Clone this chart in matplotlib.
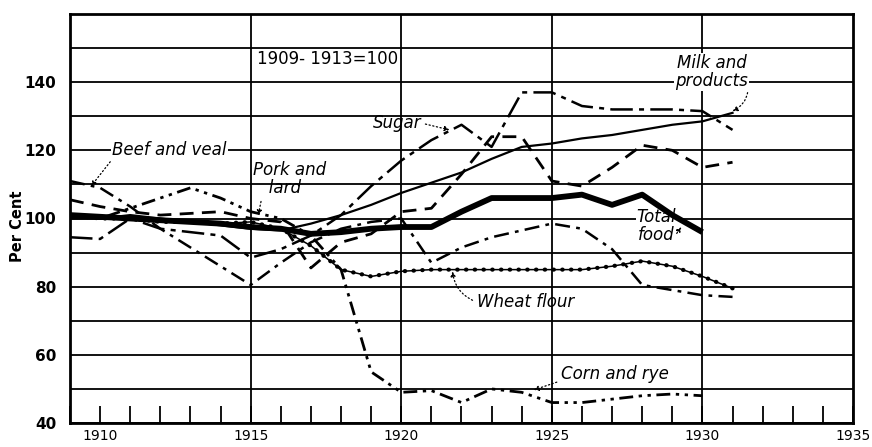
import matplotlib
matplotlib.use("Agg")
import matplotlib.pyplot as plt
import numpy as np

years = list(range(1909, 1932))
years_to_1930 = list(range(1909, 1931))

total_food = [101, 100.5, 100, 99.5, 99, 98.5, 97.5, 97, 95.5, 96, 97, 97.5,
              97.5, 102, 106, 106, 106, 107, 104, 107, 101, 96]
milk = [100, 100, 101, 100, 99, 98, 97, 96.5, 98.5, 101, 104, 107.5, 110.5,
        113.5, 117.5, 121, 122, 123.5, 124.5, 126, 127.5, 128.5, 131]
sugar = [94.5, 94, 100, 97, 96, 95, 88.5, 91, 95, 101, 109.5, 117, 123,
         127.5, 121, 137, 137, 133, 132, 132, 132, 131.5, 126]
pork = [105.5, 103.5, 102, 101, 101.5, 102, 100, 99, 85.5, 93, 95.5, 102,
        103, 113, 124, 124, 111, 109.5, 115, 121.5, 120, 115, 116.5]
beef = [111, 109, 103.5, 97, 91.5, 86, 80.5, 87, 93, 97, 99, 100, 87, 91.5,
        94.5, 96.5, 98.5, 97, 91, 80.5, 79, 77.5, 77]
wheat = [101, 100, 100, 99, 99, 98.5, 99, 97, 92, 85, 83, 84.5, 85, 85, 85,
         85, 85, 85, 86, 87.5, 86, 83, 79.5]
corn_rye = [101, 100, 103, 106, 109, 106, 102, 100, 95, 85, 55, 49, 49.5, 46,
            50, 49, 46, 46, 47, 48, 48.5, 48]

x_tick_labels = ["1910", "1915", "1920", "1925", "1930", "1935"]
y_tick_values = [40, 60, 80, 100, 120, 140]

fig = plt.figure(figsize=(8.72, 4.47), dpi=100)
ax = fig.add_axes([70 / 872, 24 / 447, 783 / 872, 409 / 447])
ax.set_xlim(1909, 1935)
ax.set_ylim(40, 160)

# grid
for v in range(40, 161, 10):
    ax.axhline(v, color="black", lw=1.3, zorder=1)
for yr in [1915, 1920, 1925, 1930]:
    ax.axvline(yr, color="black", lw=1.3, zorder=1)

lc = "black"
ax.plot(years_to_1930, total_food, color=lc, lw=4.2, solid_capstyle="butt", zorder=4)
ax.plot(years, milk, color=lc, lw=1.6, zorder=3)
ax.plot(years, sugar, color=lc, lw=1.8, linestyle=(0, (9, 2.5, 2, 2.5)), zorder=3)
ax.plot(years, pork, color=lc, lw=2.0, linestyle=(0, (5, 3)), zorder=3)
ax.plot(years, beef, color=lc, lw=1.8, linestyle=(0, (6, 2.5, 1.5, 2.5)), zorder=3)
ax.plot(years, wheat, color=lc, lw=1.1, zorder=3)
ax.plot(years, wheat, color=lc, lw=3.0, linestyle=(0, (0.1, 2.0)),
        dash_capstyle="round", zorder=3)
ax.plot(years_to_1930, corn_rye, color=lc, lw=2.0,
        linestyle=(0, (5, 2, 1.2, 2, 1.2, 2)), zorder=3)

# axes styling
for s in ax.spines.values():
    s.set_linewidth(2)
ax.set_xticks([1910, 1915, 1920, 1925, 1930, 1935])
ax.set_xticklabels(x_tick_labels, fontsize=10)
ax.set_xticks(range(1909, 1936), minor=True)
ax.tick_params(axis="x", which="both", direction="in", length=12, width=1.3,
               pad=4)
ax.set_yticks(y_tick_values)
ax.set_yticklabels([str(v) for v in y_tick_values], fontsize=11,
                   fontweight="bold")
ax.tick_params(axis="y", length=0, pad=10)
ax.set_ylabel("Per Cent", fontsize=10.5, fontweight="bold")
ax.yaxis.set_label_coords(-0.058, 0.48)

lab = dict(fontsize=12, style="italic", color="black", zorder=6)
wb = dict(facecolor="white", edgecolor="none", pad=1)
ap = dict(arrowstyle="-|>", color="black", lw=0.9, linestyle=(0, (1, 2)),
          mutation_scale=7, shrinkA=1, shrinkB=0)

ax.text(1915.2, 146.8, "1909- 1913=100", fontsize=12, ha="left",
        va="center", zorder=6)

ax.annotate("Beef and veal", xy=(1909.7, 109.5), xytext=(1910.4, 120),
            ha="left", va="center", bbox=wb,
            arrowprops=dict(ap, relpos=(0.0, 0.0)), **lab)
ax.annotate("Pork and\n   lard", xy=(1915.25, 101), xytext=(1915.08, 111.5),
            ha="left", va="center", linespacing=1.0,
            arrowprops=dict(ap, relpos=(0.12, 0.0)), **lab)
ax.annotate("Sugar", xy=(1921.6, 126), xytext=(1919.05, 128),
            ha="left", va="center",
            arrowprops=dict(ap, relpos=(1.0, 0.5)), **lab)
ax.annotate("Milk and\nproducts", xy=(1931.0, 131.5), xytext=(1930.3, 143),
            ha="center", va="center", linespacing=1.0, bbox=wb,
            arrowprops=dict(ap, relpos=(1.0, 0.2),
                            connectionstyle="arc3,rad=-0.35"), **lab)
ax.annotate("Total\nfood", xy=(1929.3, 97.5), xytext=(1928.45, 97.8),
            ha="center", va="center", linespacing=1.0,
            bbox=dict(facecolor="white", edgecolor="none", pad=0.3),
            arrowprops=dict(ap, relpos=(1.0, 0.25)),
            fontsize=12, style="italic", color="black", zorder=2.5)
ax.annotate("Wheat flour", xy=(1921.7, 84.5), xytext=(1922.5, 75.5),
            ha="left", va="center",
            arrowprops=dict(ap, relpos=(0.0, 0.5),
                            connectionstyle="arc3,rad=-0.3"), **lab)
ax.annotate("Corn and rye", xy=(1924.4, 49.7), xytext=(1925.3, 54.5),
            ha="left", va="center",
            arrowprops=dict(ap, relpos=(0.0, 0.1)), **lab)

fig.savefig("out.png", dpi=100)
